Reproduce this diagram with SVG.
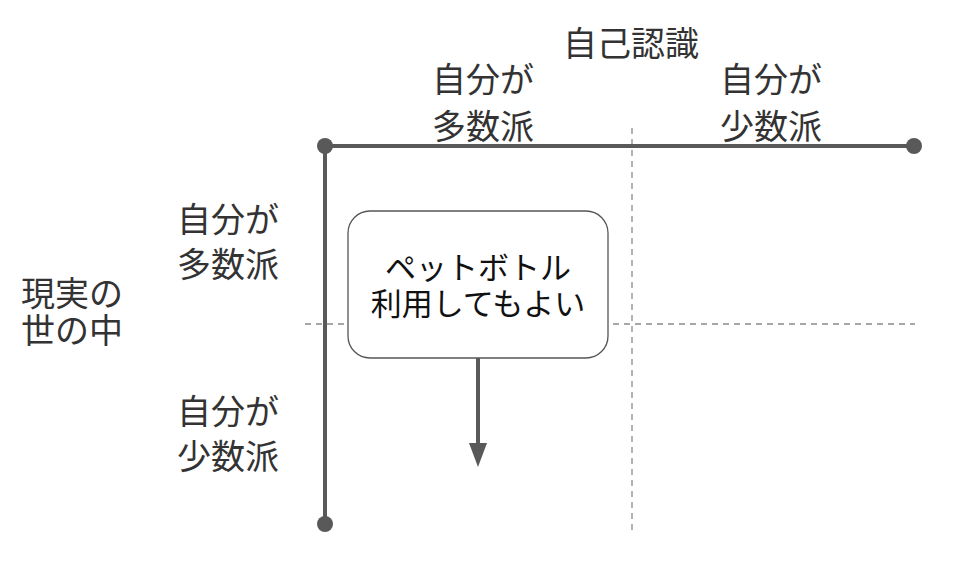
<svg xmlns="http://www.w3.org/2000/svg" width="965" height="579" viewBox="0 0 965 579">
<defs>
<style>
.lbl{font-family:"Noto Sans CJK JP","Noto Sans",sans-serif;font-size:34px;font-weight:400;fill:#333;text-anchor:middle}
.box{font-family:"Noto Sans CJK JP","Noto Sans",sans-serif;font-size:31px;font-weight:400;fill:#111;text-anchor:middle}
.axis{stroke:#595959;stroke-width:4;fill:none}
.dash{stroke:#8a8a8a;stroke-width:1.3;stroke-dasharray:6 5;fill:none}
.dot{fill:#595959}
</style>
</defs>
<rect width="965" height="579" fill="#fff"/>
<g id="grid">
<line class="dash" x1="632" y1="128" x2="632" y2="534"/>
<line class="dash" x1="305" y1="324" x2="915" y2="324"/>
</g>
<g id="axes">
<line class="axis" x1="325" y1="146" x2="914" y2="146"/>
<line class="axis" x1="325" y1="146" x2="325" y2="524"/>
<circle class="dot" cx="325" cy="146" r="8"/>
<circle class="dot" cx="914" cy="146" r="8"/>
<circle class="dot" cx="325" cy="524" r="8"/>
</g>
<g id="labels">
<text class="lbl" x="631" y="56">自己認識</text>
<text class="lbl" x="483" y="92">自分が</text>
<text class="lbl" x="483" y="139">多数派</text>
<text class="lbl" x="771" y="92">自分が</text>
<text class="lbl" x="771" y="139">少数派</text>
<text class="lbl" x="228" y="232">自分が</text>
<text class="lbl" x="228" y="277">多数派</text>
<text class="lbl" x="228" y="424">自分が</text>
<text class="lbl" x="228" y="469">少数派</text>
<text class="lbl" x="72" y="306">現実の</text>
<text class="lbl" x="72" y="343">世の中</text>
</g>
<g id="node-petbottle">
<rect x="348" y="211" width="260" height="147" rx="22" ry="22" fill="#fff" stroke="#555" stroke-width="1.3"/>
<text class="box" x="478" y="279">ペットボトル</text>
<text class="box" x="478" y="315">利用してもよい</text>
</g>
<g id="connectors">
<line x1="478" y1="358" x2="478" y2="444" stroke="#595959" stroke-width="4"/>
<path d="M469,443 L487,443 L478,467 Z" fill="#595959"/>
</g>
</svg>
